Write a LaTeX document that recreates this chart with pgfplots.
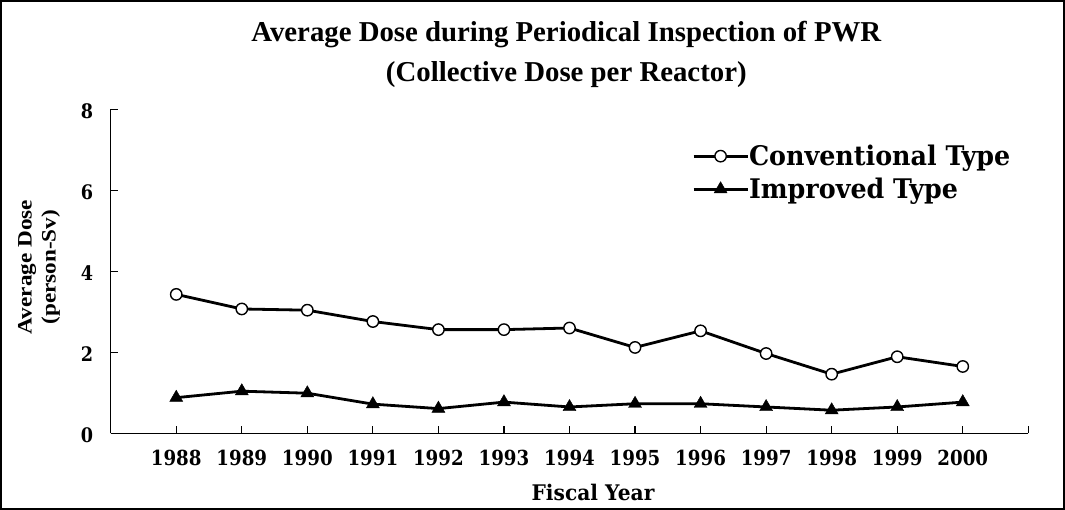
\documentclass[border=0pt]{standalone}
\usepackage{fontspec}
\setmainfont{Liberation Serif}
\newfontfamily\tickfont[FakeStretch=0.88]{DejaVu Serif}
\newfontfamily\legfont[FakeStretch=0.94]{DejaVu Serif}
\newfontfamily\ylabfont[FakeStretch=1.13]{Liberation Serif}
\usepackage{pgfplots}
\usepackage{pgfplotstable}
\pgfplotsset{compat=1.18}

\pgfplotstableread{
year conv impr
1988 3.43 0.88
1989 3.07 1.04
1990 3.04 0.99
1991 2.76 0.72
1992 2.56 0.61
1993 2.56 0.77
1994 2.60 0.65
1995 2.12 0.73
1996 2.53 0.73
1997 1.97 0.65
1998 1.46 0.57
1999 1.89 0.65
2000 1.65 0.77
}\datatable

\begin{document}
\begin{tikzpicture}
\useasboundingbox (-110.7bp,-76.7bp) rectangle (954.3bp,433.3bp);
\begin{axis}[
  at={(0,0)}, anchor=south west,
  scale only axis, width=917.6bp, height=324bp,
  xmin=1987, xmax=2001, ymin=0, ymax=8,
  clip=false,
  axis x line*=bottom, axis y line*=left,
  axis line style={line width=1.3bp, black},
  xtick={1988,1989,1990,1991,1992,1993,1994,1995,1996,1997,1998,1999,2000,2001},
  xticklabels={1988,1989,1990,1991,1992,1993,1994,1995,1996,1997,1998,1999,2000,{}},
  ytick={0,2,4,6,8},
  yticklabels={0,2,4,6,8},
  tick align=inside, major tick length=7bp,
  major tick style={line width=1.2bp, black},
  xticklabel style={font=\tickfont\bfseries\fontsize{20.7bp}{20.7bp}\selectfont, anchor=base, inner sep=0pt, yshift=-32.5bp},
  yticklabel style={font=\tickfont\bfseries\fontsize{20bp}{20bp}\selectfont, anchor=east, inner sep=0pt, xshift=-17.4bp, yshift=-1.5bp},
  xlabel={Fiscal Year},
  xlabel style={font=\legfont\bfseries\fontsize{21.5bp}{21.5bp}\selectfont, at={(rel axis cs:0.5256,-0.2059)}, anchor=base, inner sep=0pt},
  ylabel={Average Dose\\(person-Sv)},
  ylabel style={font=\ylabfont\bfseries\fontsize{20.5bp}{24bp}\selectfont, align=center, at={(rel axis cs:-0.0782,0.513)}, anchor=center, inner sep=0pt},
  legend style={draw=none, fill=none, at={(0.6335,0.890)}, anchor=north west,
    font=\legfont\bfseries\fontsize{27bp}{27bp}\selectfont, row sep=11bp, inner sep=0pt,
    nodes={inner sep=0pt},
    /tikz/every even column/.append style={column sep=6bp}},
  legend cell align=left,
  legend image code/.code={\draw[mark repeat=2,mark phase=2,#1] plot coordinates {(0bp,0bp)(27bp,0bp)(54bp,0bp)};},
]
\addplot[black, line width=2.8bp, mark=*, mark size=5.7bp, mark options={fill=white, line width=1.4bp}]
  table[x=year,y=conv]{\datatable};
\addlegendentry{Conventional Type}
\addplot[black, line width=2.8bp, mark=triangle*, mark size=7.5bp, mark options={fill=black, line width=0.4bp}]
  table[x=year,y=impr]{\datatable};
\addlegendentry{Improved Type}
\node[font=\bfseries\fontsize{28.8bp}{30bp}\selectfont, anchor=base, inner sep=0pt] at (rel axis cs:0.4965,1.2086) {Average Dose during Periodical Inspection of PWR};
\node[font=\bfseries\fontsize{28.8bp}{30bp}\selectfont, anchor=base, inner sep=0pt] at (rel axis cs:0.4965,1.0852) {(Collective Dose per Reactor)};
\end{axis}
\draw[line width=2bp] (-109.7bp,-75.7bp) rectangle (953.3bp,432.3bp);
\end{tikzpicture}
\end{document}
